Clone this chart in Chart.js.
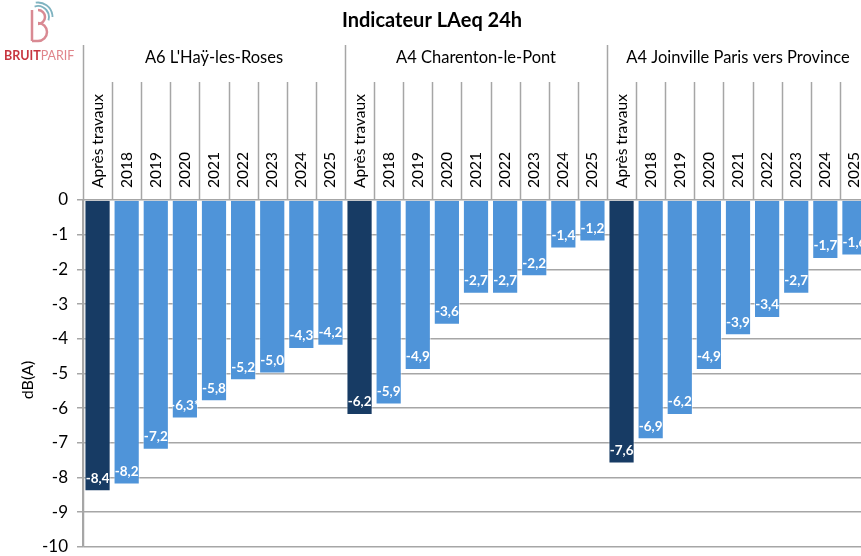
<!DOCTYPE html>
<html>
<head>
<meta charset="utf-8">
<script src="https://cdn.jsdelivr.net/npm/chart.js@4"></script>
<style>
    html, body { margin: 0; padding: 0; background: #fff; overflow: hidden; }
    #clip { width: 861px; height: 556px; overflow: hidden; }
    #wrap { width: 870px; height: 566px; position: relative; }
</style>
</head>
<body>
<div id="clip"><div id="wrap"><canvas id="bruitChart"></canvas></div></div>
<script>
// Données (différence en dB(A) par rapport à la situation de référence)
const sites = ["A6 L'Haÿ-les-Roses", "A4 Charenton-le-Pont", "A4 Joinville Paris vers Province"];
const periodes = ['Après travaux', '2018', '2019', '2020', '2021', '2022', '2023', '2024', '2025'];
const valeursA6 = [-8.4, -8.2, -7.2, -6.3, -5.8, -5.2, -5.0, -4.3, -4.2];
const valeursCharenton = [-6.2, -5.9, -4.9, -3.6, -2.7, -2.7, -2.2, -1.4, -1.2];
const valeursJoinville = [-7.6, -6.9, -6.2, -4.9, -3.9, -3.4, -2.7, -1.7, -1.6];
const notesA6 = ['', '', '', '*', '', '', '', '', ''];
const yTicks = [0, -1, -2, -3, -4, -5, -6, -7, -8, -9, -10];

const FONT = 'Lato, "Noto Sans", sans-serif';
const GRIS = '#a6a6a6';
const BLEU_FONCE = '#173b64';
const BLEU = '#4f94d9';

// construction des tableaux pour Chart.js
const labels = [];
const valeurs = [];
const suffixes = [];
const couleurs = [];
[valeursA6, valeursCharenton, valeursJoinville].forEach((serie, g) => {
    serie.forEach((v, i) => {
        labels.push(periodes[i]);
        valeurs.push(v);
        suffixes.push(g === 0 ? notesA6[i] : '');
        couleurs.push(i === 0 ? BLEU_FONCE : BLEU);
    });
});

const decor = {
    id: 'decor',
    beforeDatasetsDraw(chart) {
        const ctx = chart.ctx;
        const x = chart.scales.x;
        const area = chart.chartArea;
        const n = periodes.length;
        const slot = (area.right - area.left) / labels.length;

        ctx.save();
        ctx.strokeStyle = GRIS;
        ctx.lineWidth = 1.5;

        // séparateurs des catégories et des sites
        for (let i = 0; i <= labels.length; i++) {
            const px = Math.round(area.left + i * slot) + 0.5;
            const top = (i % n === 0) ? 45 : 82;
            ctx.beginPath();
            ctx.moveTo(px, top);
            ctx.lineTo(px, i === 0 ? area.bottom : area.top);
            ctx.stroke();
        }

        // libellés des catégories (verticaux)
        ctx.fillStyle = '#000';
        ctx.font = '15.5px ' + FONT;
        ctx.textAlign = 'left';
        ctx.textBaseline = 'middle';
        labels.forEach((lab, i) => {
            const px = x.getPixelForValue(i);
            ctx.save();
            ctx.translate(px, 188);
            ctx.rotate(-Math.PI / 2);
            ctx.fillText(lab, 0, 0);
            ctx.restore();
        });

        // noms des sites
        ctx.font = '16.5px ' + FONT;
        ctx.textAlign = 'center';
        sites.forEach((s, g) => {
            const cx = area.left + (g * n + n / 2) * slot;
            ctx.fillText(s, cx, 58);
        });

        // titre
        ctx.font = 'bold 20px ' + FONT;
        ctx.fillText('Indicateur LAeq 24h', 432, 21);

        // titre de l'axe Y
        ctx.font = '16px ' + FONT;
        ctx.save();
        ctx.translate(28, 380);
        ctx.rotate(-Math.PI / 2);
        ctx.fillText('dB(A)', 0, 0);
        ctx.restore();

        // logo Bruitparif
        ctx.lineWidth = 2.5;
        ctx.strokeStyle = '#d98a93';
        ctx.beginPath();
        ctx.moveTo(32, 10);
        ctx.lineTo(32, 41);
        ctx.stroke();
        ctx.beginPath();
        ctx.arc(38, 17, 7, -Math.PI / 2, Math.PI / 2);
        ctx.stroke();
        ctx.beginPath();
        ctx.arc(38, 32, 9, -Math.PI / 2, Math.PI / 2);
        ctx.lineTo(32, 41);
        ctx.stroke();
        ctx.strokeStyle = '#7fb3c0';
        ctx.lineWidth = 1.8;
        ctx.beginPath();
        ctx.arc(38, 17, 11, -Math.PI * 0.6, Math.PI * 0.1);
        ctx.stroke();
        ctx.beginPath();
        ctx.arc(38, 17, 14.5, -Math.PI * 0.55, 0);
        ctx.stroke();

        ctx.textAlign = 'left';
        ctx.font = 'bold 12.5px ' + FONT;
        ctx.fillStyle = '#c7353f';
        ctx.fillText('BRUIT', 4, 56);
        const w = ctx.measureText('BRUIT').width;
        ctx.font = '12.5px ' + FONT;
        ctx.fillStyle = '#e0858b';
        ctx.fillText('PARIF', 4 + w, 56);
        ctx.restore();
    },
    afterDatasetsDraw(chart) {
        const ctx = chart.ctx;
        const meta = chart.getDatasetMeta(0);
        ctx.save();
        ctx.fillStyle = '#fff';
        ctx.font = 'bold 13.5px ' + FONT;
        ctx.textAlign = 'center';
        ctx.textBaseline = 'middle';
        meta.data.forEach((bar, i) => {
            const txt = valeurs[i].toFixed(1).replace('.', ',') + suffixes[i];
            ctx.fillText(txt, bar.x, bar.y - 13);
        });
        ctx.restore();
    }
};

new Chart(document.getElementById('bruitChart'), {
    type: 'bar',
    data: {
        labels: labels,
        datasets: [{
            data: valeurs,
            backgroundColor: couleurs,
            borderColor: 'rgba(255,255,255,0.5)',
            borderWidth: 1,
            barPercentage: 0.9,
            categoryPercentage: 1
        }]
    },
    options: {
        responsive: true,
        maintainAspectRatio: false,
        animation: false,
        layout: { padding: { top: 200, right: 1, bottom: 1, left: 0 } },
        plugins: {
            legend: { display: false },
            tooltip: { enabled: false }
        },
        scales: {
            x: { display: false },
            y: {
                min: -10,
                max: 0,
                afterFit(scale) { scale.width = 83; },
                afterBuildTicks(scale) { scale.ticks = yTicks.map(v => ({ value: v })); },
                ticks: {
                    color: '#000',
                    font: { size: 17, family: FONT },
                    padding: 9,
                    callback: v => String(v)
                },
                grid: { color: GRIS, lineWidth: 1.5, tickLength: 6 },
                border: { color: GRIS, width: 1.5 }
            }
        }
    },
    plugins: [decor]
});
</script>
</body>
</html>
